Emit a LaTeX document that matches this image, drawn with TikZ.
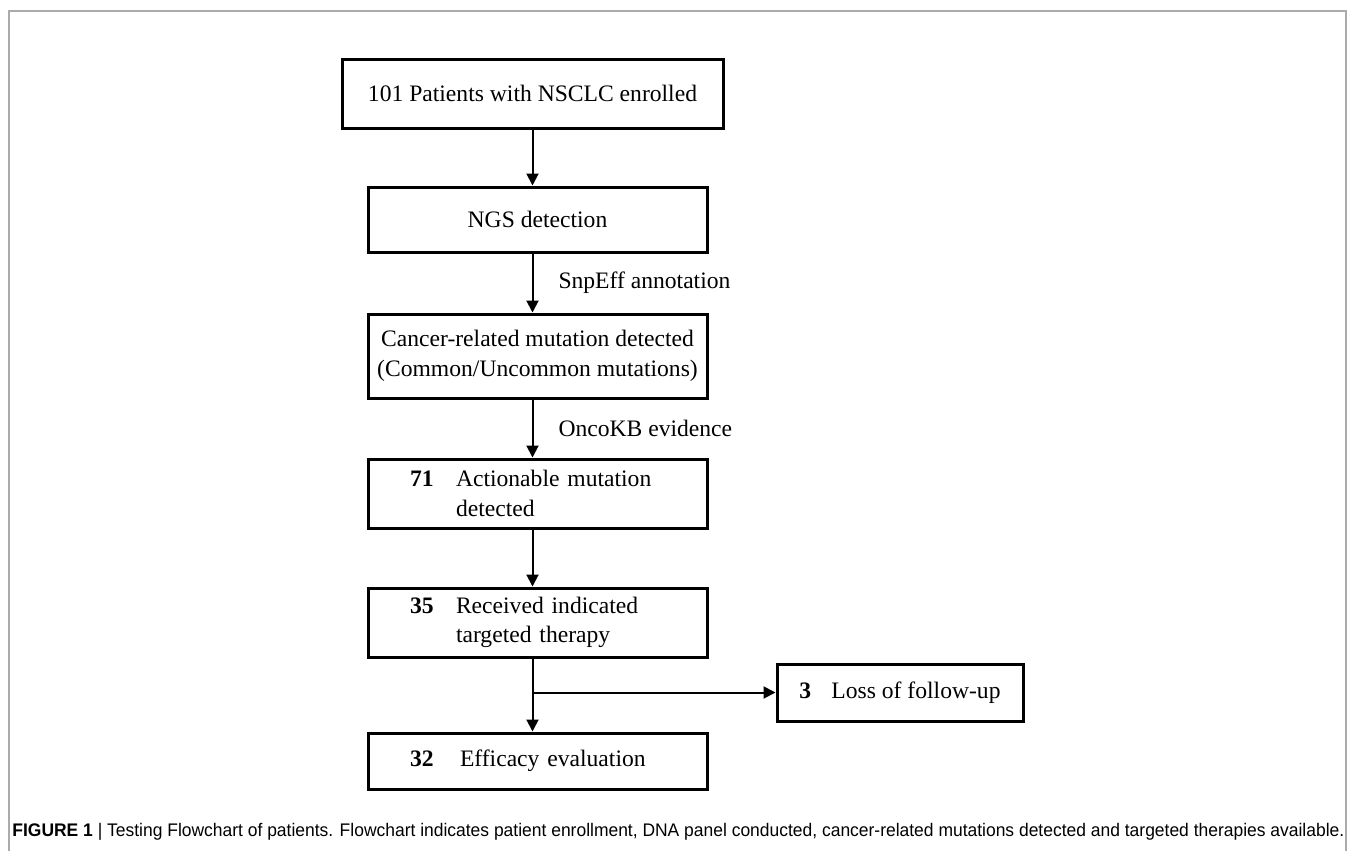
\documentclass[tikz,border=0pt]{standalone}
\usepackage{fontspec}
\usepackage{graphicx}
\usetikzlibrary{arrows.meta,positioning}
\newfontfamily\flowfont{Liberation Serif}
\newfontfamily\capfont{Liberation Sans}
\newcommand\boxfont{\flowfont\fontsize{11.8}{14.8}\selectfont}
\definecolor{framegray}{HTML}{ABABAB}
\tikzset{
  flowbox/.style={draw,rectangle,line width=1.5pt,inner sep=0pt,font=\boxfont,align=center},
  numbox/.style={flowbox,align=left,text width=127.5pt},
  flowarrow/.style={draw,line width=1pt,-{Triangle[length=6pt,width=6pt]}}
}
\begin{document}
\begin{tikzpicture}[x=0.5pt,y=-0.5pt]
\useasboundingbox (0,0) rectangle (1355,851);
\draw[framegray,line width=0.8pt] (9,851) -- (9,11) -- (1346,11) -- (1346,851);

\node[flowbox,minimum width=190.5pt,minimum height=34.5pt] (enroll) at (532.5,93.5) {101 Patients with NSCLC enrolled};
\node[flowbox,minimum width=169.5pt,minimum height=32.5pt] (ngs) at (537.5,219.5) {NGS detection};
\node[flowbox,minimum width=169.5pt,minimum height=42pt] (cancer) at (537.5,356)
  {Cancer-related mutation detected\\(Common/Uncommon mutations)};
\node[numbox,minimum width=169.5pt,minimum height=34.5pt] (action) at (537.5,493.5)
  {\makebox[23pt][l]{\textbf{71}}Actionable mutation\\\hspace*{23pt}detected};
\node[numbox,minimum width=169.5pt,minimum height=34.5pt] (therapy) at (537.5,622.5)
  {\makebox[23pt][l]{\textbf{35}}Received indicated\\\hspace*{23pt}targeted therapy};
\node[numbox,minimum width=169.5pt,minimum height=28pt] (efficacy) at (537.5,761)
  {\makebox[25pt][l]{\textbf{32}}Efficacy evaluation};
\node[flowbox,minimum width=123pt,minimum height=28.5pt] (loss) at (900,692.5)
  {\makebox[16pt][l]{\textbf{3}}Loss of follow-up};

% main line
\draw[flowarrow] (enroll.south) -- (enroll.south |- ngs.north);
\draw[flowarrow] (ngs.south -| enroll.south) -- (cancer.north -| enroll.south)
  node[midway,right=12.5pt,inner sep=0pt,font=\boxfont] (snpeff) {SnpEff annotation};
\draw[flowarrow] (cancer.south -| enroll.south) -- (action.north -| enroll.south)
  node[midway,right=12.5pt,inner sep=0pt,font=\boxfont] (oncokb) {OncoKB evidence};
\draw[flowarrow] (action.south -| enroll.south) -- (therapy.north -| enroll.south);
\draw[flowarrow] (therapy.south -| enroll.south) -- (efficacy.north -| enroll.south);
% branch
\coordinate (split) at (enroll.south |- loss.west);
\draw[flowarrow] (split) -- (loss.west);

\node[anchor=west,inner sep=0pt] (caption) at (12,832)
  {\resizebox{666pt}{6.6pt}{\capfont\textbf{FIGURE 1} {\textbar} Testing Flowchart of patients. Flowchart indicates patient enrollment, DNA panel conducted, cancer-related mutations detected and targeted therapies available.}};
\end{tikzpicture}
\end{document}
